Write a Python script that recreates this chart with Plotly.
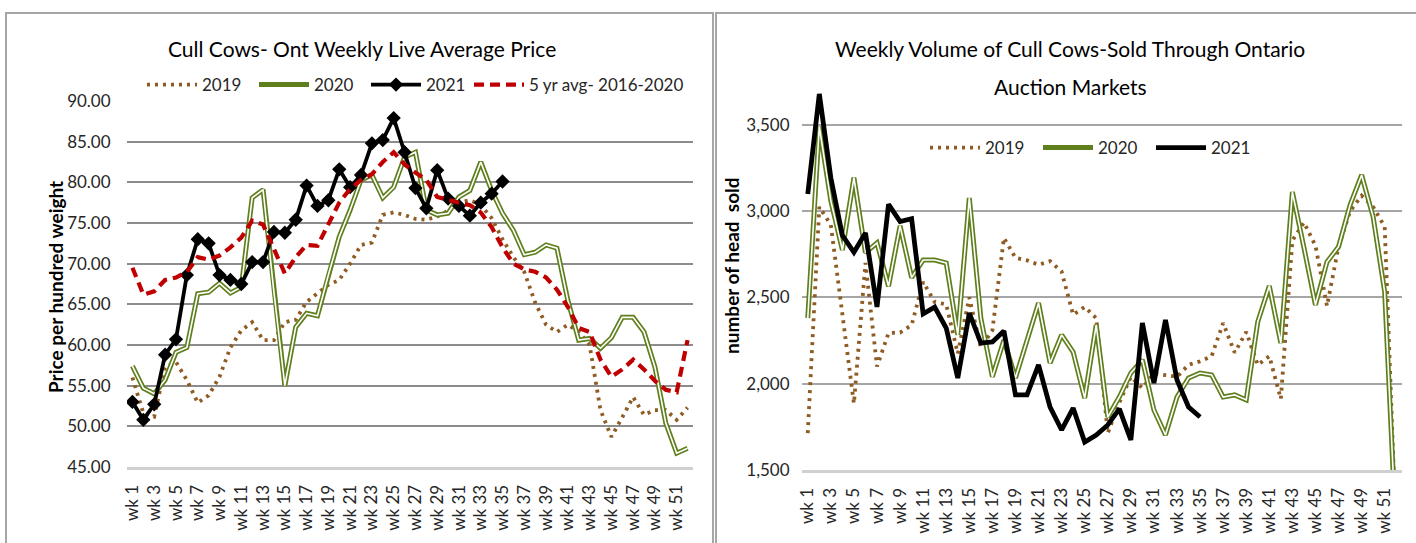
import plotly.graph_objects as go

# ---------------- data ----------------
weeks = [f"wk {i}" for i in range(1, 53)]
tick_weeks = weeks[::2]

price_2019 = [56.0, 51.6, 51.2, 57.3, 57.9, 55.7, 52.9, 53.8, 56.1, 59.7,
              61.8, 62.8, 60.6, 60.6, 62.8, 63.1, 65.3, 66.4, 67.4, 68.0,
              70.0, 72.3, 72.6, 76.0, 76.3, 76.0, 75.5, 75.4, 75.8, 76.5,
              77.5, 77.8, 77.2, 75.6, 73.0, 70.8, 69.0, 65.2, 62.5, 61.6,
              62.5, 61.6, 60.0, 52.0, 48.7, 51.1, 53.6, 51.4, 52.0, 52.0,
              50.8, 52.3]
price_2020 = [57.4, 54.7, 54.0, 55.7, 59.1, 59.7, 66.3, 66.5, 67.6, 66.4,
              67.1, 78.1, 79.1, 66.5, 55.0, 62.2, 63.9, 63.6, 68.6, 73.3,
              76.6, 80.3, 80.9, 78.1, 79.4, 83.1, 83.7, 76.6, 76.0, 76.2,
              78.2, 79.0, 82.5, 79.0, 76.2, 74.1, 71.1, 71.4, 72.3, 71.9,
              65.5, 60.6, 60.8, 59.6, 60.9, 63.4, 63.4, 61.6, 57.3, 50.4,
              46.7, 47.3]
price_2021 = [53.0, 50.8, 52.7, 58.8, 60.7, 68.6, 73.0, 72.5, 68.6, 68.0,
              67.5, 70.2, 70.2, 73.9, 73.8, 75.4, 79.6, 77.1, 77.8, 81.6,
              79.4, 80.9, 84.8, 85.2, 87.9, 83.7, 79.3, 76.8, 81.5, 78.0,
              77.1, 75.9, 77.5, 78.6, 80.1]
price_5yr = [69.5, 66.2, 66.6, 68.0, 68.3, 69.0, 70.8, 70.5, 71.0, 72.0,
             73.2, 75.3, 74.8, 71.8, 68.8, 70.8, 72.3, 72.2, 75.0, 77.5,
             79.2, 80.3, 81.0, 82.5, 83.7, 82.2, 81.2, 80.3, 78.2, 77.8,
             77.5, 77.2, 76.3, 74.5, 72.0, 70.0, 69.3, 69.0, 68.3, 66.8,
             64.7, 62.1, 61.6, 58.2, 56.1, 57.0, 58.2, 57.0, 55.6, 54.5,
             54.2, 60.6]

vol_2019 = [1714, 3025, 2920, 2420, 1885, 2700, 2100, 2294, 2297, 2340,
            2590, 2474, 2460, 2175, 2500, 2210, 2310, 2845, 2730, 2715,
            2690, 2710, 2650, 2400, 2445, 2380, 1714, 1890, 2040, 1975,
            2060, 2050, 2040, 2110, 2130, 2160, 2352, 2180, 2300, 2109,
            2160, 1912, 2830, 2935, 2800, 2450, 2795, 3000, 3090, 3025,
            2910, 1100]
vol_2020 = [2381, 3490, 3060, 2775, 3195, 2760, 2816, 2565, 2915, 2615,
            2717, 2717, 2700, 2283, 3077, 2380, 2040, 2254, 2033, 2250,
            2468, 2120, 2283, 2184, 1917, 2341, 1807, 1923, 2062, 2138,
            1848, 1703, 1923, 2033, 2062, 2051, 1923, 1935, 1906, 2359,
            2567, 2236, 3112, 2790, 2457, 2706, 2794, 3036, 3210, 2967,
            2533, 1100]
vol_2021 = [3100, 3680, 3193, 2860, 2762, 2874, 2445, 3040, 2940, 2957,
            2405, 2444, 2323, 2033, 2410, 2236, 2242, 2306, 1935, 1935,
            2109, 1865, 1732, 1859, 1662, 1703, 1761, 1854, 1674, 2352,
            2004, 2370, 2022, 1865, 1807]

price_ticks = [45, 50, 55, 60, 65, 70, 75, 80, 85, 90]
vol_ticks = [1500, 2000, 2500, 3000, 3500]

# ---------------- style ----------------
W, H = 1416, 543
FONT = "Lato, Carlito, 'Open Sans', sans-serif"
BROWN = "#8f5c24"
GREEN = "#5f7f1c"
RED = "#c00000"
TXT = "#262626"

def fx(px):
    return px / W

def fy(py):
    return 1 - py / H

fig = go.Figure()

# ----- left chart -----
fig.add_trace(go.Scatter(x=weeks, y=price_2019, mode="lines", name="2019",
                         line=dict(color=BROWN, width=3.8, dash="3px,5px"),
                         xaxis="x", yaxis="y", legend="legend"))
fig.add_trace(go.Scatter(x=weeks, y=price_2020, mode="lines", name="2020",
                         line=dict(color=GREEN, width=5),
                         xaxis="x", yaxis="y", legend="legend"))
fig.add_trace(go.Scatter(x=weeks, y=price_2020, mode="lines", showlegend=False,
                         line=dict(color="white", width=1.6), hoverinfo="skip",
                         xaxis="x", yaxis="y"))
fig.add_trace(go.Scatter(x=weeks[:len(price_2021)], y=price_2021, mode="lines+markers",
                         name="2021", line=dict(color="black", width=3.8),
                         marker=dict(symbol="diamond", size=11, color="black"),
                         xaxis="x", yaxis="y", legend="legend"))
fig.add_trace(go.Scatter(x=weeks, y=price_5yr, mode="lines", name="5 yr avg- 2016-2020",
                         line=dict(color=RED, width=4.2, dash="10px,6px"),
                         xaxis="x", yaxis="y", legend="legend3"))

# ----- right chart -----
fig.add_trace(go.Scatter(x=weeks, y=vol_2019, mode="lines", name="2019",
                         line=dict(color=BROWN, width=3.8, dash="3px,5px"),
                         xaxis="x2", yaxis="y2", legend="legend2"))
fig.add_trace(go.Scatter(x=weeks, y=vol_2020, mode="lines", name="2020",
                         line=dict(color=GREEN, width=5),
                         xaxis="x2", yaxis="y2", legend="legend2"))
fig.add_trace(go.Scatter(x=weeks, y=vol_2020, mode="lines", showlegend=False,
                         line=dict(color="white", width=1.6), hoverinfo="skip",
                         xaxis="x2", yaxis="y2"))
fig.add_trace(go.Scatter(x=weeks[:len(vol_2021)], y=vol_2021, mode="lines", name="2021",
                         line=dict(color="black", width=4.8),
                         xaxis="x2", yaxis="y2", legend="legend2"))

xcommon = dict(type="category", categoryorder="array", categoryarray=weeks,
               range=[-0.5, 51.5], tickmode="array", tickvals=tick_weeks,
               ticktext=tick_weeks, tickangle=-90, showgrid=False,
               showline=True, linecolor="#d0d0d0", linewidth=3,
               ticks="outside", ticklen=8, tickcolor="rgba(0,0,0,0)",
               tickfont=dict(family=FONT, size=17, color=TXT), zeroline=False,
               automargin=False)

legend_common = dict(orientation="h", xanchor="left", yanchor="middle",
                     font=dict(family=FONT, size=17, color=TXT),
                     bgcolor="rgba(0,0,0,0)", itemwidth=50,
                     entrywidthmode="pixels", traceorder="normal")

fig.update_layout(
    width=W, height=H, autosize=False,
    margin=dict(l=0, r=0, t=0, b=0, pad=0, autoexpand=False),
    paper_bgcolor="white", plot_bgcolor="white",
    font=dict(family=FONT, color=TXT),
    hovermode=False,
    xaxis=dict(domain=[fx(127), fx(693)], anchor="y", **xcommon),
    yaxis=dict(domain=[fy(467), fy(101)], anchor="x", range=[45, 90],
               tickmode="array", tickvals=price_ticks, tickformat=".2f",
               showgrid=True, gridcolor="#8c8c8c", gridwidth=2,
               zeroline=False, showline=False, automargin=False,
               ticks="outside", ticklen=12, tickcolor="rgba(0,0,0,0)",
               tickfont=dict(family=FONT, size=17, color=TXT)),
    xaxis2=dict(domain=[fx(802), fx(1402)], anchor="y2", **xcommon),
    yaxis2=dict(domain=[fy(470), fy(87)], anchor="x2", range=[1500, 3720],
                tickmode="array", tickvals=vol_ticks, tickformat=",.0f",
                showgrid=True, gridcolor="#a6a6a6", gridwidth=2,
                zeroline=False, showline=False, automargin=False,
                ticks="outside", ticklen=8, tickcolor="rgba(0,0,0,0)",
                tickfont=dict(family=FONT, size=17, color=TXT)),
    legend=dict(x=fx(142), y=fy(85), entrywidth=47, **legend_common),
    legend3=dict(x=fx(469), y=fy(85), **legend_common),
    legend2=dict(x=fx(925), y=fy(148), entrywidth=48, **legend_common),
    annotations=[
        dict(text="Cull Cows- Ont Weekly Live Average Price", x=fx(362), y=fy(49),
             xref="paper", yref="paper", showarrow=False, xanchor="center", yanchor="middle",
             font=dict(family=FONT, size=21, color="black")),
        dict(text="Weekly Volume of Cull Cows-Sold Through Ontario",
             x=fx(1070), y=fy(48), xref="paper", yref="paper", showarrow=False,
             xanchor="center", yanchor="middle",
             font=dict(family=FONT, size=21, color="black")),
        dict(text="Auction Markets",
             x=fx(1070), y=fy(86), xref="paper", yref="paper", showarrow=False,
             xanchor="center", yanchor="middle",
             font=dict(family=FONT, size=21, color="black")),
        dict(text="<b>Price per hundred weight</b>", x=fx(55), y=fy(287), textangle=-90,
             xref="paper", yref="paper", showarrow=False, xanchor="center", yanchor="middle",
             font=dict(family=FONT, size=19, color="black")),
        dict(text="<b>number of head  sold</b>", x=fx(731), y=fy(266), textangle=-90,
             xref="paper", yref="paper", showarrow=False, xanchor="center", yanchor="middle",
             font=dict(family=FONT, size=19, color="black")),
    ],
    shapes=[
        dict(type="rect", xref="paper", yref="paper", x0=fx(6), x1=fx(713), y0=-0.05, y1=fy(13),
             line=dict(color="#a6a6a6", width=2), fillcolor="rgba(0,0,0,0)", layer="below"),
        dict(type="rect", xref="paper", yref="paper", x0=fx(716), x1=1.05, y0=-0.05, y1=fy(13),
             line=dict(color="#a6a6a6", width=2), fillcolor="rgba(0,0,0,0)", layer="below"),
    ],
)

fig.write_html("out.html", config={"displayModeBar": False},
               post_script="document.body.style.margin='0px';")
